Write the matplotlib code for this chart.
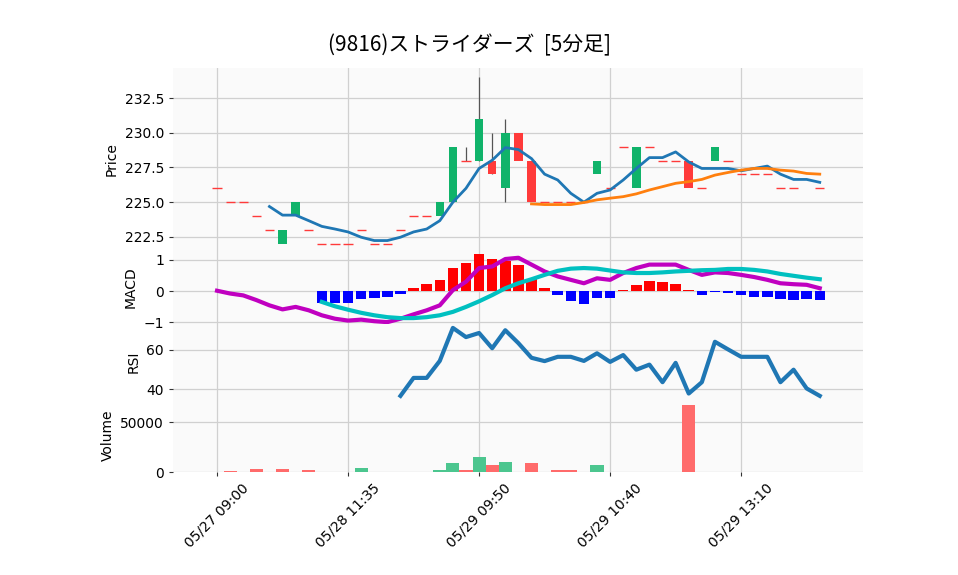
import numpy as np
import matplotlib
matplotlib.use("Agg")
import matplotlib.pyplot as plt

nan = np.nan
title = "(9816)ストライダーズ  [5分足]"
tick_idx = [0, 10, 20, 30, 40]
tick_labels = ["05/27 09:00", "05/28 11:35", "05/29 09:50", "05/29 10:40", "05/29 13:10"]

opens = [226,225,225,224,223,222,224,223,222,222,222,223,222,222,223,224,224,224,225,228,228,228,226,230,228,
         225,225,225,225,227,226,229,226,229,228,228,228,226,228,228,227,227,227,226,226,nan,226]
closes = [226,225,225,224,223,223,225,223,222,222,222,223,222,222,223,224,224,225,229,228,231,227,230,228,225,
          225,225,225,225,228,226,229,229,229,228,228,226,226,229,228,227,227,227,226,226,nan,226]
highs = [226,225,225,224,223,223,225,223,222,222,222,223,222,222,223,224,224,225,229,229,234,230,231,230,228,
         225,225,225,225,228,226,229,229,229,228,228,228,226,229,228,227,227,227,226,226,nan,226]
lows = [226,225,225,224,223,222,224,223,222,222,222,223,222,222,223,224,224,224,225,228,228,227,225,228,225,
        225,225,225,225,227,226,229,226,229,228,228,226,226,228,228,227,227,227,226,226,nan,226]

ma_short = [nan]*4 + [224.69,224.07,224.07,223.67,223.26,223.07,222.86,222.48,222.24,222.24,222.48,222.86,223.07,
            223.67,225.0,226.0,227.43,228.02,228.93,228.79,228.14,227.02,226.6,225.64,225.0,225.64,225.88,226.6,
            227.43,228.21,228.21,228.62,227.9,227.43,227.43,227.43,227.26,227.43,227.6,227.02,226.64,226.64,226.43]
ma_long = [nan]*24 + [224.88,224.83,224.83,224.83,224.98,225.17,225.29,225.4,225.6,225.88,226.12,226.36,226.48,
           226.64,226.95,227.14,227.31,227.43,227.43,227.31,227.24,227.07,227.02]

macd = [0.01,-0.08,-0.14,-0.29,-0.46,-0.59,-0.51,-0.62,-0.78,-0.89,-0.95,-0.92,-0.97,-1.0,-0.89,-0.75,-0.62,-0.46,
        0.03,0.30,0.74,0.79,1.03,1.07,0.85,0.63,0.47,0.36,0.25,0.41,0.36,0.58,0.74,0.85,0.85,0.85,0.68,0.52,0.60,
        0.58,0.52,0.45,0.36,0.25,0.22,0.20,0.09]
signal = [nan]*8 + [-0.35,-0.49,-0.60,-0.70,-0.78,-0.84,-0.87,-0.87,-0.84,-0.78,-0.67,-0.51,-0.33,-0.13,0.09,0.25,
          0.38,0.52,0.65,0.72,0.74,0.72,0.66,0.60,0.58,0.58,0.60,0.63,0.65,0.67,0.68,0.71,0.71,0.68,0.63,0.55,
          0.49,0.43,0.38]
hist = [nan]*8 + [-0.38,-0.40,-0.39,-0.25,-0.22,-0.19,-0.09,0.09,0.23,0.36,0.75,0.89,1.18,1.02,0.97,0.85,0.38,
        0.09,-0.14,-0.33,-0.42,-0.22,-0.22,0.03,0.20,0.33,0.29,0.23,0.03,-0.13,-0.03,-0.05,-0.12,-0.19,-0.19,
        -0.25,-0.28,-0.25,-0.28]
rsi = [nan]*14 + [36.5,45.7,45.7,54.4,71.3,66.6,68.7,60.9,70.1,63.5,56.0,54.3,56.5,56.5,54.4,58.3,53.9,57.4,
       49.9,52.5,43.5,53.4,37.7,43.5,64.2,60.3,56.5,56.5,56.5,43.5,49.9,40.3,36.5]
volume = [0,700,300,2700,300,2700,300,1700,300,300,300,3700,300,300,300,300,300,1700,8800,1700,14900,6800,9800,
          300,8800,300,1700,1700,300,6800,300,300,300,300,300,300,67600,300,300,300,300,300,300,300,300,300,300]
vol_up = [0,0,1,0,0,0,1,0,0,0,0,1,0,0,1,1,0,1,1,0,1,0,1,0,0,0,0,0,0,1,0,1,0,0,0,0,0,0,1,0,0,0,0,0,0,1,0]

W, H = 958, 575
fig = plt.figure(figsize=(W/100, H/100), dpi=100)
L, R = 173, 863
def ax_at(top, bottom):
    a = fig.add_axes([L/W, 1-bottom/H, (R-L)/W, (bottom-top)/H])
    a.set_facecolor("#fafafa")
    for s in a.spines.values():
        s.set_visible(False)
    a.grid(True, color="#d0d0d0", lw=0.9)
    a.set_axisbelow(True)
    a.set_xlim(-3.36, 49.3)
    a.tick_params(labelsize=10, length=3, color="#333333")
    return a

axp = ax_at(68, 250)
axm = ax_at(250, 324)
axr = ax_at(324, 399)
axv = ax_at(399, 472)

x = np.arange(len(opens))
up_c, dn_c = "#10b36a", "#ff3a3a"
for i in x:
    o, c, h, l = opens[i], closes[i], highs[i], lows[i]
    if np.isnan(o):
        continue
    if h > max(o, c) or l < min(o, c):
        axp.vlines(i, l, h, color="#555555", lw=0.9, zorder=2)
    if o == c:
        axp.hlines(o, i-0.35, i+0.35, color=dn_c, lw=1.0, zorder=3)
    else:
        axp.bar(i, abs(c-o), bottom=min(o, c), width=0.65, color=up_c if c > o else dn_c, zorder=3)
axp.plot(x, ma_short, color="#1f77b4", lw=2, zorder=4)
axp.plot(x, ma_long, color="#ff7f0e", lw=2, zorder=4)
axp.set_ylim(221.56, 234.66)
axp.set_yticks([222.5, 225.0, 227.5, 230.0, 232.5])
axp.set_ylabel("Price", fontsize=10)

h_arr = np.array(hist)
axm.bar(x, h_arr, width=0.8, color=["red" if v > 0 else "blue" for v in np.nan_to_num(h_arr)], zorder=2)
axm.plot(x, macd, color="#c000c0", lw=3, zorder=3)
axm.plot(x, signal, color="#00c0c0", lw=3, zorder=3)
axm.set_ylim(-1.06, 1.32)
axm.set_yticks([-1, 0, 1])
axm.set_yticklabels(["\u22121", "0", "1"])
axm.set_ylabel("MACD", fontsize=10)

axr.plot(x, rsi, color="#1f77b4", lw=3)
axr.set_ylim(34.9, 73.3)
axr.set_yticks([40, 60])
axr.set_ylabel("RSI", fontsize=10)

axv.bar(x, volume, width=1.0, color=["#4cc68f" if u else "#ff6b6b" for u in vol_up], zorder=2)
axv.set_ylim(0, 73500)
axv.set_yticks([0, 50000])
axv.set_ylabel("Volume", fontsize=10)

for a in (axp, axm, axr):
    a.set_xticks(tick_idx)
    a.tick_params(axis="x", labelbottom=False, length=0)
axv.set_xticks(tick_idx)
axv.set_xticklabels(tick_labels, rotation=45, fontsize=10)

fig.text(0.49, 1-45/H, title, ha="center", va="center", fontsize=15, fontfamily="Noto Sans CJK JP")
fig.savefig("out.png", dpi=100)
